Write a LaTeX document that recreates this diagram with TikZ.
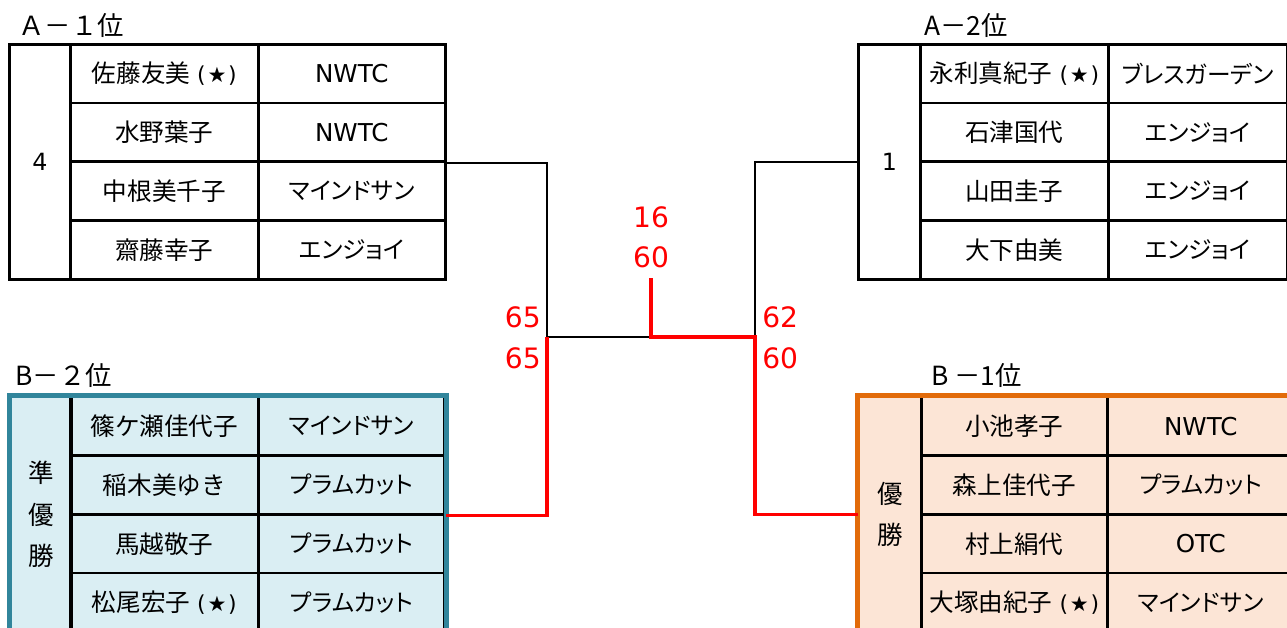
\documentclass[tikz,border=0pt]{standalone}
\usepackage{fontspec}
\setmainfont{DejaVu Sans}
\newfontfamily\jp{Noto Sans CJK JP}
\newfontfamily\jpp[RawFeature=+palt]{Noto Sans CJK JP}
\usetikzlibrary{positioning}
\definecolor{tealLine}{RGB}{49,133,155}
\definecolor{tealFill}{RGB}{218,238,243}
\definecolor{orangeLine}{RGB}{226,107,10}
\definecolor{orangeFill}{RGB}{252,229,214}
\newcommand{\hoshi}{\textrm{\fontsize{12.5}{14}\selectfont\ (\kern1pt{\fontsize{12}{13}\selectfont★}\kern1pt)}}
\newcommand{\latclub}[1]{{\fontsize{14}{16}\selectfont\rmfamily #1}}

\begin{document}
\begin{tikzpicture}[x=0.02cm, y=-0.02cm,
    cell/.style={draw, line width=1.5pt, inner sep=0pt, anchor=north west,
        minimum height=1.175cm},
    rankcell/.style={cell, minimum width=1.22cm, minimum height=4.7cm},
    namecell/.style={cell, minimum width=3.76cm, font=\jp\fontsize{14}{16}\selectfont},
    clubcell/.style={cell, minimum width=3.74cm, font=\jpp\fontsize{13.5}{15}\selectfont},
    title/.style={anchor=base west, inner sep=0pt, font=\jp\fontsize{15}{17}\selectfont},
    score/.style={inner sep=0pt, text=red, font=\fontsize{16}{18}\selectfont},
    bracket/.style={line width=1.4pt},
    win/.style={line width=2pt, red}]
    \useasboundingbox (0,0) rectangle (1287,627);

    % A-1 table
    \node[title] (a1title) at (18,35) {Ａ－１位};
    \node[rankcell, font=\fontsize{13.5}{15}\selectfont] (a1rank) at (8,43) {4};
    \foreach \nm/\cl [count=\i] in {佐藤友美\hoshi/\latclub{NWTC}, 水野葉子/\latclub{NWTC},
        中根美千子/マインドサン, 齋藤幸子/エンジョイ} {
        \node[namecell] (a1n\i) at (69,{43+(\i-1)*58.75}) {\nm};
        \node[clubcell] (a1c\i) at (257,{43+(\i-1)*58.75}) {\cl};
    }

    % A-2 table
    \node[title] (a2title) at (924,35) {A－2位};
    \node[rankcell, minimum width=1.24cm, font=\fontsize{13.5}{15}\selectfont] (a2rank) at (857,43) {1};
    \foreach \nm/\cl [count=\i] in {永利真紀子\hoshi/ブレスガーデン, 石津国代/エンジョイ,
        山田圭子/エンジョイ, 大下由美/エンジョイ} {
        \node[namecell] (a2n\i) at (919,{43+(\i-1)*58.75}) {\nm};
        \node[clubcell, minimum width=3.58cm] (a2c\i) at (1107,{43+(\i-1)*58.75}) {\cl};
    }

    % B-2 table
    \node[title] (b2title) at (15,385) {B－２位};
    \fill[tealFill] (9.5,395.5) rectangle (443.5,640);
    \node[rankcell, font=\jp\fontsize{14.5}{23.5}\selectfont, align=center] (b2rank) at (9.5,395.5) {準\\優\\勝};
    \foreach \nm/\cl [count=\i] in {篠ケ瀬佳代子/マインドサン, 稲木美ゆき/プラムカット,
        馬越敬子/プラムカット, 松尾宏子\hoshi/プラムカット} {
        \node[namecell] (b2n\i) at (69,{395.5+(\i-1)*58.75}) {\nm};
        \node[clubcell, minimum width=3.73cm] (b2c\i) at (257,{395.5+(\i-1)*58.75}) {\cl};
    }
    \draw[tealLine, line width=2.8pt] (b2rank.north west) rectangle (b2c4.south east);

    % B-1 table
    \node[title] (b1title) at (931,385) {B －1位};
    \fill[orangeFill] (857.5,395.5) rectangle (1300,640);
    \node[rankcell, minimum width=1.25cm, font=\jp\fontsize{14.5}{23.5}\selectfont, align=center] (b1rank) at (857.5,395.5) {優\\勝};
    \foreach \nm/\cl [count=\i] in {小池孝子/\latclub{NWTC}, 森上佳代子/プラムカット,
        村上絹代/\latclub{OTC}, 大塚由紀子\hoshi/マインドサン} {
        \node[namecell, minimum width=3.72cm] (b1n\i) at (920,{395.5+(\i-1)*58.75}) {\nm};
        \node[clubcell] (b1c\i) at (1106,{395.5+(\i-1)*58.75}) {\cl};
    }
    \draw[orangeLine, line width=2.8pt] (b1rank.north west) rectangle (b1c4.south east);

    % bracket
    \coordinate (semiL) at (547,337);
    \coordinate (semiR) at (755,337);
    \coordinate (final) at (651,337);
    \coordinate (champ) at (651,278);
    \draw[bracket] (a1c2.south east) -| (semiL) -- (final);
    \draw[bracket] (a2rank.west) -| (semiR);
    \draw[win] (b2c2.south east) -| (semiL);
    \draw[win] (champ) |- (semiR) |- (b1rank.west);

    % scores
    \node[score] (fin1) at (651,217) {16};
    \node[score] (fin2) at (651,257) {60};
    \node[score, anchor=east] (sl1) at (541,317) {65};
    \node[score, anchor=east] (sl2) at (541,358) {65};
    \node[score, anchor=west] (sr1) at (762,317) {62};
    \node[score, anchor=west] (sr2) at (762,358) {60};
\end{tikzpicture}
\end{document}
